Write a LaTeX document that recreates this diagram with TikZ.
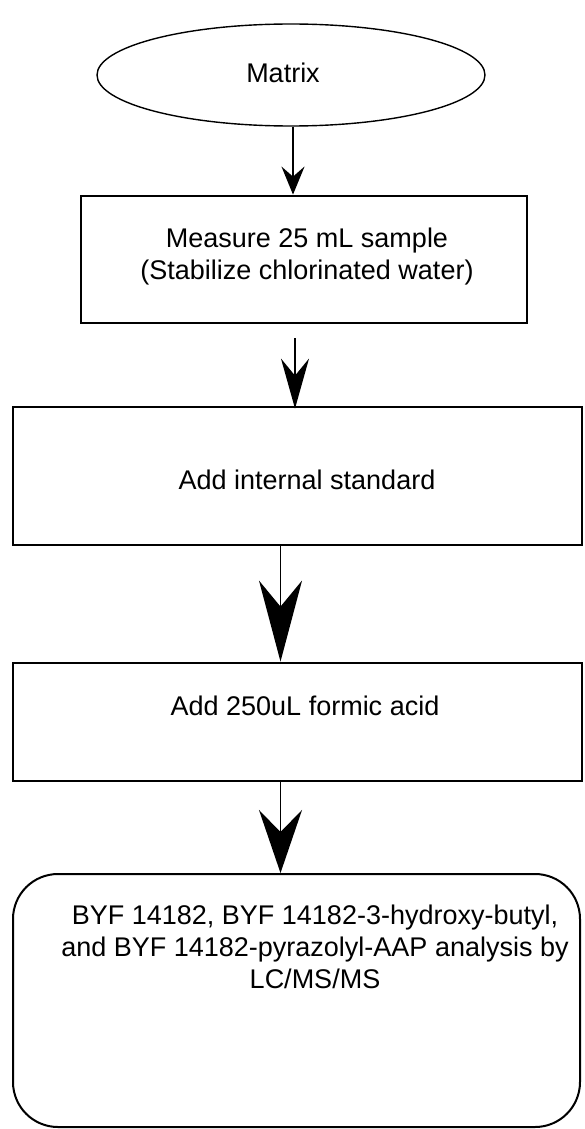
\documentclass[tikz,border=0pt]{standalone}
\usepackage{fontspec}
\setmainfont{Liberation Sans}
\usetikzlibrary{arrows.meta,shapes.geometric}

\begin{document}
\begin{tikzpicture}[x=1pt,y=-1pt,line width=1.5pt,
  font=\fontsize{27}{32}\selectfont,
  oval/.style={draw,ellipse,line width=1.4pt,inner sep=0pt,minimum width=388pt,minimum height=102pt},
  box/.style={draw,rectangle,line width=2.8pt,inner sep=0pt},
  rbox/.style={draw,rectangle,rounded corners=45pt,line width=2pt,inner sep=0pt},
  txt/.style={inner sep=0pt,align=center},
  arrA/.style={-{Stealth[length=28pt,width=23pt,inset=10pt]},line width=2pt},
  arrB/.style={-{Stealth[length=50pt,width=28pt,inset=17pt]}},
  arrC/.style={-{Stealth[length=81pt,width=43pt,inset=26pt]}},
  arrD/.style={-{Stealth[length=63pt,width=43pt,inset=22pt]}}]
\useasboundingbox (0,0) rectangle (584,1129);
% 流程框
\node[oval] (matrix) at (291,75) {};
\node[box,minimum width=446pt,minimum height=127pt] (measure) at (304,259.5) {};
\node[box,minimum width=569pt,minimum height=138pt] (internal) at (297.5,476) {};
\node[box,minimum width=569pt,minimum height=118pt] (formic) at (297.5,722) {};
\node[rbox,minimum width=567pt,minimum height=253pt] (analysis) at (296.5,1000.5) {};
% 文字
\node[txt,anchor=base] (matrixtxt) at (283,83) {Matrix};
\node[txt,anchor=north] (measuretxt) at (307,227) {Measure 25 mL sample\\(Stabilize chlorinated water)};
\node[txt,anchor=base] (internaltxt) at (307,489) {Add internal standard};
\node[txt,anchor=base] (formictxt) at (305,715) {Add 250uL formic acid};
\node[txt,anchor=north] (analysistxt) at (315,904) {BYF 14182, BYF 14182-3-hydroxy-butyl,\\and BYF 14182-pyrazolyl-AAP analysis by\\LC/MS/MS};
% 箭头
\draw[arrA] ([xshift=2pt]matrix.south) -- ([xshift=2pt]matrix.south |- measure.north);
\draw[arrB] ([xshift=-9pt,yshift=-14pt]measure.south) -- ([xshift=-9pt,yshift=-3pt]measure.south |- internal.north);
\draw[arrC] ([xshift=-17pt]internal.south) -- ([xshift=-17pt]internal.south |- formic.north);
\draw[arrD] ([xshift=-17pt]formic.south) -- ([xshift=-17pt]formic.south |- analysis.north);
\end{tikzpicture}
\end{document}
